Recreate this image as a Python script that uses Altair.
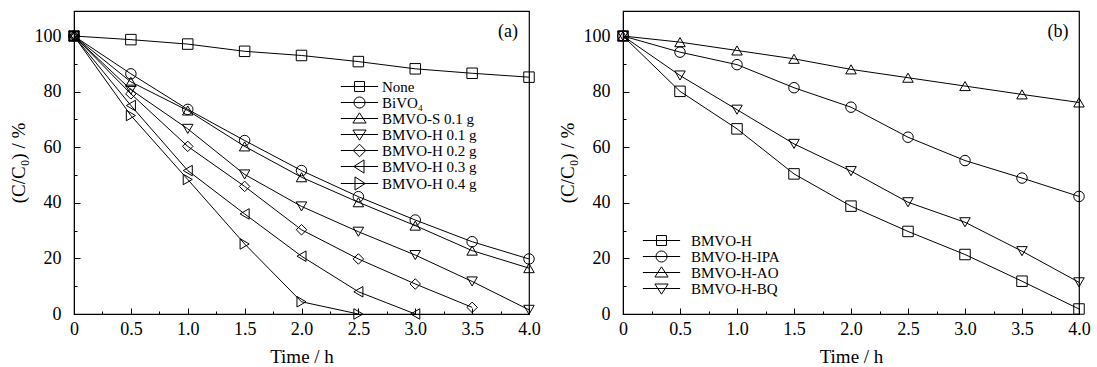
import altair as alt
import pandas as pd

# ---------------- data ----------------
t_a = [0, 0.5, 1.0, 1.5, 2.0, 2.5, 3.0, 3.5, 4.0]
names_a = ["None", "BiVO₄", "BMVO-S 0.1 g", "BMVO-H 0.1 g", "BMVO-H 0.2 g", "BMVO-H 0.3 g", "BMVO-H 0.4 g"]
none_v = [100, 98.7, 97.1, 94.5, 93.0, 90.8, 88.2, 86.6, 85.2]
bivo4_v = [100, 86.4, 73.6, 62.4, 51.6, 42.2, 33.8, 26.0, 19.8]
s01_v = [100, 83.5, 73.2, 60.3, 49.2, 40.2, 31.8, 22.8, 16.5]
h01_v = [100, 80.7, 66.6, 50.2, 38.7, 29.6, 21.2, 11.7, 1.5]
h02_v = [100, 79.2, 60.3, 45.9, 30.3, 19.8, 10.8, 2.4]
h03_v = [100, 75.0, 51.6, 36.0, 20.8, 8.0, 0.0]
h04_v = [100, 71.4, 48.4, 25.2, 4.4, 0.0]
series_a = [none_v, bivo4_v, s01_v, h01_v, h02_v, h03_v, h04_v]

names_b = ["BMVO-H", "BMVO-H-IPA", "BMVO-H-AO", "BMVO-H-BQ"]
bh_v = [100, 80.1, 66.6, 50.4, 38.8, 29.7, 21.4, 11.8, 1.8]
ipa_v = [100, 94.2, 89.7, 81.4, 74.4, 63.6, 55.2, 48.9, 42.3]
ao_v = [100, 97.8, 94.8, 91.8, 88.0, 85.0, 82.0, 79.0, 76.1]
bq_v = [100, 85.8, 73.5, 61.2, 51.4, 40.2, 33.0, 22.6, 11.4]
series_b = [bh_v, ipa_v, ao_v, bq_v]

x_ticks = [i * 0.25 for i in range(17)]
y_ticks = [i * 10 for i in range(11)]

# ---------------- styles ----------------
FONT = "Liberation Serif"
shapes_a = ["square", "circle", "triangle-up", "triangle-down", "diamond", "triangle-left", "triangle-right"]
shapes_b = ["square", "circle", "triangle-up", "triangle-down"]

LINE = "M-3.1,0H3.1"
leg_paths = {
    "square": LINE + "M-0.83,-0.83H0.83V0.83H-0.83Z",
    "circle": LINE + "M0.92,0A0.92,0.92 0 1,1 -0.92,0A0.92,0.92 0 1,1 0.92,0Z",
    "triangle-up": LINE + "M0,-0.95L1.1,0.75H-1.1Z",
    "triangle-down": LINE + "M0,0.95L1.1,-0.75H-1.1Z",
    "diamond": LINE + "M0,-1.05L1.05,0L0,1.05L-1.05,0Z",
    "triangle-left": LINE + "M-0.95,0L0.75,-1.1V1.1Z",
    "triangle-right": LINE + "M0.95,0L-0.75,-1.1V1.1Z",
}


def frame(names, series):
    rows = []
    for n, vals in zip(names, series):
        for tt, v in zip(t_a, vals):
            rows.append({"s": n, "t": tt, "v": v})
    return pd.DataFrame(rows)


major_x = "abs(datum.value*2 - round(datum.value*2)) < 0.01"
x_axis = alt.Axis(
    values=x_ticks,
    labelExpr=f"{major_x} ? (datum.value == 0 ? '0' : format(datum.value, '.1f')) : ''",
    tickSize={"condition": {"test": major_x, "value": -6}, "value": -3},
    labelPadding=12,
    labelFlush=False,
    titlePadding=9,
    grid=False,
)
major_y = "datum.value % 20 === 0"
y_axis = alt.Axis(
    values=y_ticks,
    labelExpr=f"{major_y} ? datum.label : ''",
    tickSize={"condition": {"test": major_y, "value": -6}, "value": -3},
    labelPadding=19,
    labelFlush=False,
    titlePadding=6,
    grid=False,
)


def panel(names, series, shapes, lx, ly, loff, rowpad, tag, w):
    df = frame(names, series)
    base = alt.Chart(df)
    x = alt.X("t:Q", scale=alt.Scale(domain=[0, 4], nice=False, zero=False), axis=x_axis, title="Time / h")
    y = alt.Y("v:Q", scale=alt.Scale(domain=[0, 109], nice=False), axis=y_axis, title="(C/C₀) / %")
    lines = base.mark_line(color="black", strokeWidth=1).encode(x=x, y=y, detail="s:N", order="t:Q")
    pts = base.mark_point(filled=False, color="black", size=110, strokeWidth=1, opacity=1).encode(
        x=x, y=y,
        shape=alt.Shape("s:N", scale=alt.Scale(domain=names, range=shapes), legend=None),
    )
    leg = base.transform_filter("false").mark_point(
        filled=False, color="black", size=144, strokeWidth=1, opacity=1
    ).encode(
        x=x, y=y,
        shape=alt.Shape(
            "s:N",
            scale=alt.Scale(domain=names, range=[leg_paths[s] for s in shapes]),
            legend=alt.Legend(
                title=None, orient="none", legendX=lx, legendY=ly,
                labelFont=FONT, labelFontSize=15, labelColor="black",
                symbolStrokeColor="black", symbolStrokeWidth=1, symbolSize=144,
                symbolFillColor="transparent",
                labelOffset=loff, rowPadding=rowpad, padding=0,
            ),
        ),
    )
    txt = alt.Chart(pd.DataFrame({"lab": [tag]})).mark_text(
        font=FONT, fontSize=18, color="black", align="center", baseline="middle"
    ).encode(x=alt.value(w - 21), y=alt.value(21), text="lab:N")
    return alt.layer(lines, pts, leg, txt).resolve_scale(shape="independent").properties(width=w, height=303)


pa = panel(names_a, series_a, shapes_a, 278, 68, 15, -4, "(a)", 455)
pb = panel(names_b, series_b, shapes_b, 31, 222, 22, -1, "(b)", 456)

chart = alt.hconcat(pa, pb, spacing=16).properties(
    padding={"left": 8, "top": 10, "right": 5, "bottom": 5}
).configure_view(stroke="black", strokeWidth=1.2).configure_axis(
    labelFont=FONT, titleFont=FONT, labelFontSize=18, titleFontSize=19,
    titleFontWeight="normal", labelColor="black", titleColor="black",
    domainColor="black", tickColor="black", domainWidth=1,
)

chart.save("out.html", embed_options={"renderer": "svg", "actions": False})
